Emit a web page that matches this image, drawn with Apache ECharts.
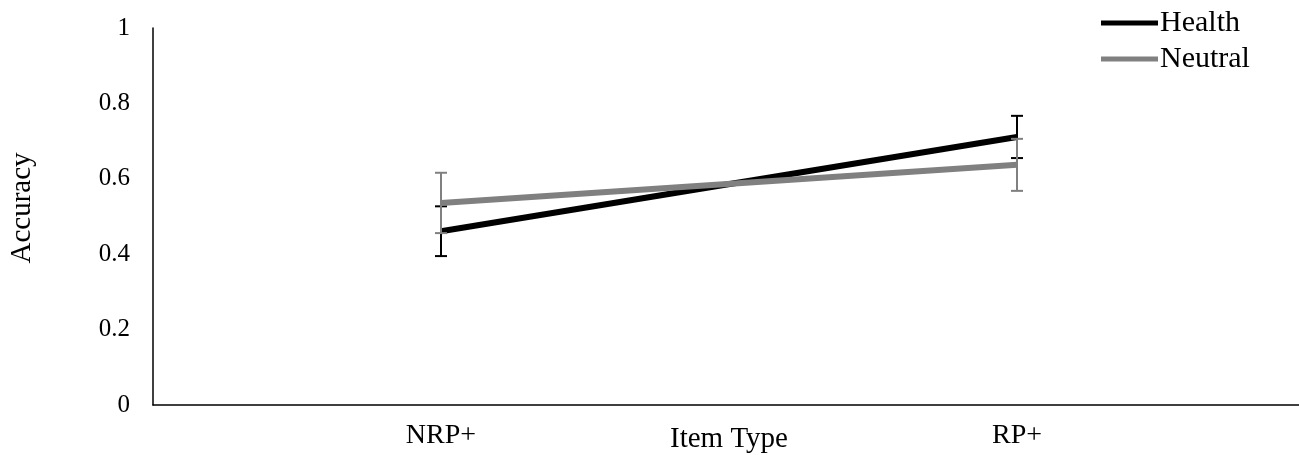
<!DOCTYPE html>
<html>
<head>
<meta charset="utf-8">
<script src="https://cdn.jsdelivr.net/npm/echarts@6/dist/echarts.min.js"></script>
<style>
html,body{margin:0;padding:0;background:#fff;}
#chart{width:1299px;height:455px;}
</style>
</head>
<body>
<div id="chart"></div>
<script>
const categories = ['NRP+', 'RP+'];
const healthValues = [0.461, 0.711];
const healthErrors = [0.066, 0.056];
const neutralValues = [0.536, 0.637];
const neutralErrors = [0.08, 0.069];
const yTicks = [0, 0.2, 0.4, 0.6, 0.8, 1];
const xTitle = 'Item Type';
const yTitle = 'Accuracy';

const FONT = '"Liberation Serif", "Times New Roman", serif';

function errData(vals, errs) {
  return vals.map((v, i) => [i, v - errs[i], v + errs[i]]);
}
function errRender(color) {
  return function (params, api) {
    const x = api.value(0);
    const lo = api.coord([x, api.value(1)]);
    const hi = api.coord([x, api.value(2)]);
    const cap = 6;
    const style = { stroke: color, lineWidth: 2 };
    return {
      type: 'group',
      children: [
        { type: 'line', shape: { x1: lo[0], y1: lo[1], x2: hi[0], y2: hi[1] }, style },
        { type: 'line', shape: { x1: hi[0] - cap, y1: hi[1], x2: hi[0] + cap, y2: hi[1] }, style },
        { type: 'line', shape: { x1: lo[0] - cap, y1: lo[1], x2: lo[0] + cap, y2: lo[1] }, style }
      ]
    };
  };
}

const chart = echarts.init(document.getElementById('chart'), null, { renderer: 'canvas' });
chart.setOption({
  animation: false,
  backgroundColor: '#ffffff',
  textStyle: { fontFamily: FONT },
  grid: { left: 153, top: 28, width: 1152, height: 377, containLabel: false, outerBoundsMode: 'none' },
  legend: {
    orient: 'vertical',
    left: 1101,
    top: 8,
    padding: 0,
    itemWidth: 57,
    itemHeight: 5,
    itemGap: 6,
    icon: 'rect',
    textStyle: { fontFamily: FONT, fontSize: 30, color: '#000', padding: [0, 0, 0, -3] },
    data: ['Health', 'Neutral']
  },
  graphic: [
    {
      type: 'text',
      x: 729, y: 439,
      style: { text: xTitle, fontFamily: FONT, fontSize: 29, fill: '#000', align: 'center', verticalAlign: 'middle' }
    },
    {
      type: 'text',
      x: 22, y: 208,
      rotation: Math.PI / 2,
      style: { text: yTitle, fontFamily: FONT, fontSize: 29, fill: '#000', align: 'center', verticalAlign: 'middle' }
    }
  ],
  xAxis: {
    type: 'category',
    data: categories,
    boundaryGap: true,
    axisLine: { lineStyle: { color: '#000', width: 1.5 } },
    axisTick: { show: false },
    axisLabel: { fontFamily: FONT, fontSize: 28, color: '#000', margin: 17 },
    splitLine: { show: false }
  },
  yAxis: {
    type: 'value',
    min: 0,
    max: 1,
    interval: 0.2,
    axisLine: { show: true, lineStyle: { color: '#000', width: 1.5 } },
    axisTick: { show: false },
    axisLabel: {
      fontFamily: FONT, fontSize: 25, color: '#000', margin: 23,
      formatter: v => yTicks.includes(Math.round(v * 10) / 10) ? String(Math.round(v * 10) / 10) : ''
    },
    splitLine: { show: false }
  },
  series: [
    {
      name: 'Health',
      type: 'line',
      data: healthValues,
      symbol: 'none',
      color: '#000000',
      lineStyle: { color: '#000000', width: 6 },
      z: 3
    },
    {
      name: 'HealthErr',
      type: 'custom',
      data: errData(healthValues, healthErrors),
      renderItem: errRender('#000000'),
      encode: { x: 0, y: [1, 2] },
      z: 3
    },
    {
      name: 'Neutral',
      type: 'line',
      data: neutralValues,
      symbol: 'none',
      color: '#808080',
      lineStyle: { color: '#808080', width: 6 },
      z: 4
    },
    {
      name: 'NeutralErr',
      type: 'custom',
      data: errData(neutralValues, neutralErrors),
      renderItem: errRender('#808080'),
      encode: { x: 0, y: [1, 2] },
      z: 4
    }
  ]
});
</script>
</body>
</html>
